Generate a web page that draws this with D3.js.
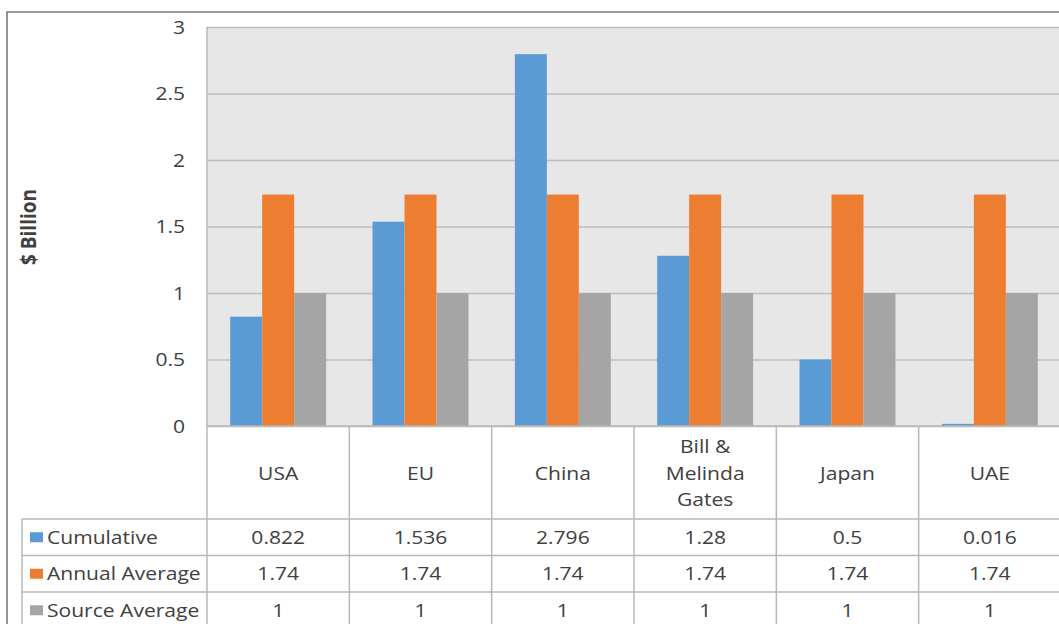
<!DOCTYPE html>
<html>
<head>
<meta charset="utf-8">
<script src="https://cdn.jsdelivr.net/npm/d3@7/dist/d3.min.js"></script>
<style>
  html, body { margin: 0; padding: 0; background: #ffffff; }
  svg { display: block; }
  text { font-family: "Open Sans", "Noto Sans", sans-serif; fill: #404040; }
</style>
</head>
<body>
<svg id="chart" width="1059" height="624"></svg>
<script>
// ---- data ----
const categories = ["USA", "EU", "China", "Bill & Melinda Gates", "Japan", "UAE"];
const seriesNames = ["Cumulative", "Annual Average", "Source Average"];
const cumulative = [0.822, 1.536, 2.796, 1.28, 0.5, 0.016];
const annualAverage = [1.74, 1.74, 1.74, 1.74, 1.74, 1.74];
const sourceAverage = [1, 1, 1, 1, 1, 1];
const yTicks = [0, 0.5, 1, 1.5, 2, 2.5, 3];
const yTitle = "$ Billion";

const seriesValues = [cumulative, annualAverage, sourceAverage];
const colors = ["#5B9BD5", "#ED7D31", "#A5A5A5"];

// ---- layout ----
const W = 1059, H = 624;
const plotL = 207, plotR = 1061, plotT = 27, plotB = 426;
const catRowB = 519, rowH = 36.5;
const tableL = 22;
const SX = 1.17;        // horizontal stretch of text
const FS = 18;
const lineCol = "#B8B8B8";

const svg = d3.select("#chart");

const x = d3.scaleBand().domain(categories).range([plotL, plotR]).paddingInner(0).paddingOuter(0);
const x1 = d3.scaleBand().domain(seriesNames).range([0, x.bandwidth()]).paddingInner(0).paddingOuter(0.725);
const y = d3.scaleLinear().domain([0, 3]).range([plotB, plotT]);

function stext(g, px, py, str, anchor, extra) {
  return g.append("text")
    .attr("transform", `translate(${px},${py}) scale(${SX},1)`)
    .attr("text-anchor", anchor)
    .attr("dy", "0.35em")
    .style("font-size", FS + "px")
    .text(str);
}

// plot background
svg.append("rect")
  .attr("x", plotL).attr("y", plotT)
  .attr("width", plotR - plotL).attr("height", plotB - plotT)
  .attr("fill", "#E7E7E7");

// y axis with gridlines
const yAxis = d3.axisLeft(y).tickValues(yTicks).tickSize(-(plotR - plotL)).tickPadding(0).tickFormat(d3.format("~g"));
const ag = svg.append("g").attr("transform", `translate(${plotL},0)`).call(yAxis);
ag.select(".domain").remove();
ag.selectAll(".tick line").attr("stroke", "#BDBDBD").attr("stroke-width", 1.6);
ag.selectAll(".tick text")
  .attr("x", -22 / SX)
  .attr("dy", "0.35em")
  .attr("transform", `scale(${SX},1)`)
  .attr("fill", "#404040")
  .style("font-size", FS + "px")
  .style("font-family", '"Open Sans", sans-serif');

// bars
const groups = svg.append("g").selectAll("g")
  .data(categories)
  .join("g")
  .attr("transform", d => `translate(${x(d)},0)`);

groups.selectAll("rect")
  .data((c, i) => seriesNames.map((s, k) => ({ s, k, v: seriesValues[k][i] })))
  .join("rect")
  .attr("x", d => x1(d.s))
  .attr("width", x1.bandwidth())
  .attr("y", d => y(d.v))
  .attr("height", d => y(0) - y(d.v))
  .attr("fill", d => colors[d.k]);

// category axis line (left) and zero line
svg.append("line").attr("x1", plotL).attr("x2", plotL).attr("y1", plotT).attr("y2", H + 10)
  .attr("stroke", lineCol).attr("stroke-width", 1.5);
svg.append("line").attr("x1", plotL).attr("x2", plotR).attr("y1", plotB).attr("y2", plotB)
  .attr("stroke", lineCol).attr("stroke-width", 1.5);

// data table
const tg = svg.append("g");
// vertical separators
categories.forEach(c => {
  tg.append("line")
    .attr("x1", x(c) + x.bandwidth()).attr("x2", x(c) + x.bandwidth())
    .attr("y1", plotB).attr("y2", H + 10)
    .attr("stroke", lineCol).attr("stroke-width", 1.5);
});
// left border of legend column
tg.append("line").attr("x1", tableL).attr("x2", tableL).attr("y1", catRowB).attr("y2", H + 10)
  .attr("stroke", lineCol).attr("stroke-width", 1.5);
// horizontal rows
for (let r = 0; r <= seriesNames.length; r++) {
  const yy = catRowB + r * rowH;
  tg.append("line").attr("x1", tableL).attr("x2", plotR).attr("y1", yy).attr("y2", yy)
    .attr("stroke", lineCol).attr("stroke-width", 1.5);
}

// category labels (wrapped)
const lineGap = 26.5;
categories.forEach(c => {
  const words = c.split(" ");
  const lines = [];
  let cur = "";
  words.forEach(w => {
    const test = cur ? cur + " " + w : w;
    if (test.length > 7 && cur) { lines.push(cur); cur = w; } else { cur = test; }
  });
  if (cur) lines.push(cur);
  const cy = (plotB + catRowB) / 2 + 1;
  lines.forEach((ln, i) => {
    stext(tg, x(c) + x.bandwidth() / 2, cy + (i - (lines.length - 1) / 2) * lineGap, ln, "middle");
  });
});

// series rows
seriesNames.forEach((s, k) => {
  const cy = catRowB + k * rowH + rowH / 2;
  tg.append("rect").attr("x", 30).attr("y", cy - 5).attr("width", 13).attr("height", 10).attr("fill", colors[k]);
  stext(tg, 47, cy, s, "start");
  categories.forEach((c, i) => {
    stext(tg, x(c) + x.bandwidth() / 2, cy, String(seriesValues[k][i]), "middle");
  });
});

// y axis title
svg.append("text")
  .attr("transform", "translate(36,227) rotate(-90) scale(1,1.17)")
  .attr("text-anchor", "middle")
  .style("font-size", "19px")
  .style("font-weight", "bold")
  .text(yTitle);

// outer chart border
svg.append("path")
  .attr("d", `M7,${H + 5} V12 H${W + 5}`)
  .attr("fill", "none")
  .attr("stroke", "#7A7A7A")
  .attr("stroke-width", 1.6);
</script>
</body>
</html>
